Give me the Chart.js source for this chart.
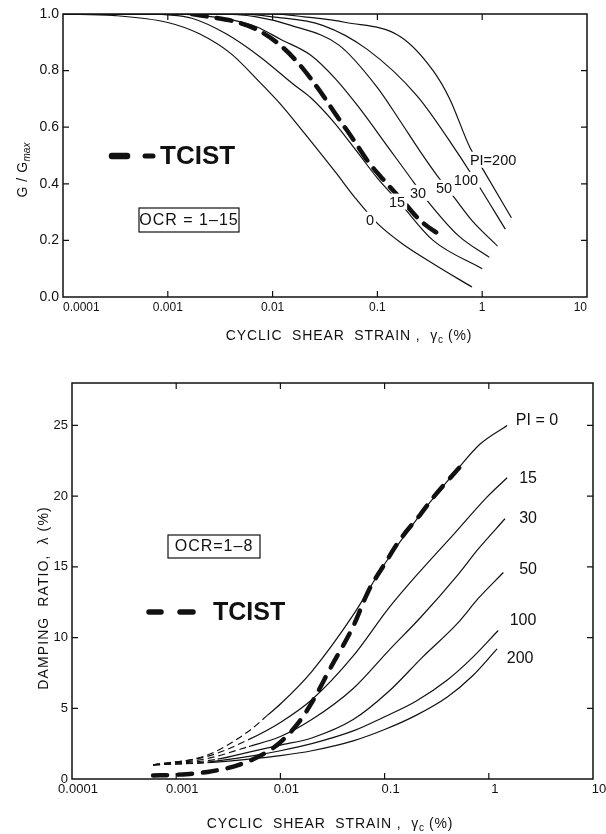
<!DOCTYPE html>
<html>
<head>
<meta charset="utf-8">
<script src="https://cdn.jsdelivr.net/npm/chart.js@4.4.1/dist/chart.umd.min.js"></script>
<style>
  body { margin: 0; background: #fff; width: 606px; height: 834px; overflow: hidden; }
  .box { position: absolute; left: 0; width: 606px; }
</style>
</head>
<body>
<div class="box" style="top:0;height:345px"><canvas id="gChart"></canvas></div>
<div class="box" style="top:345px;height:489px"><canvas id="dChart"></canvas></div>
<script>
// axes
const strainTicks = [0.0001, 0.001, 0.01, 0.1, 1, 10];
const strainTickLabels = ["0.0001", "0.001", "0.01", "0.1", "1", "10"];
const gTicks = [0, 0.2, 0.4, 0.6, 0.8, 1.0];
const gTickLabels = ["0.0", "0.2", "0.4", "0.6", "0.8", "1.0"];
const dTicks = [0, 5, 10, 15, 20, 25];
const dTickLabels = ["0", "5", "10", "15", "20", "25"];

// G/Gmax curves (strain %, G/Gmax)
const gStrain0 = [0.0001, 0.0003, 0.001, 0.002, 0.004, 0.0075, 0.012, 0.02, 0.04, 0.06, 0.1, 0.17, 0.35, 0.8];
const gPI0 = [1.0, 0.995, 0.97, 0.93, 0.86, 0.76, 0.68, 0.58, 0.44, 0.355, 0.26, 0.19, 0.115, 0.035];
const gStrain15 = [0.0001, 0.0005, 0.001, 0.0017, 0.0036, 0.0075, 0.016, 0.023, 0.038, 0.065, 0.1, 0.166, 0.34, 1.0];
const gPI15 = [1.0, 1.0, 0.997, 0.985, 0.93, 0.85, 0.75, 0.705, 0.62, 0.51, 0.42, 0.33, 0.2, 0.1];
const gStrain30 = [0.0001, 0.001, 0.002, 0.004, 0.007, 0.012, 0.023, 0.04, 0.065, 0.132, 0.19, 0.3, 0.6, 1.17];
const gPI30 = [1.0, 1.0, 0.995, 0.98, 0.955, 0.91, 0.855, 0.77, 0.675, 0.52, 0.44, 0.34, 0.215, 0.14];
const gStrain50 = [0.0001, 0.003, 0.007, 0.015, 0.043, 0.1, 0.166, 0.25, 0.37, 0.52, 0.8, 1.4];
const gPI50 = [1.0, 1.0, 0.99, 0.96, 0.89, 0.74, 0.62, 0.52, 0.43, 0.36, 0.27, 0.18];
const gStrain100 = [0.0001, 0.005, 0.01, 0.03, 0.08, 0.24, 0.58, 0.9, 1.66];
const gPI100 = [1.0, 1.0, 0.99, 0.96, 0.875, 0.71, 0.51, 0.4, 0.24];
const gStrain200 = [0.0001, 0.01, 0.02, 0.05, 0.166, 0.34, 0.49, 0.76, 1.02, 1.9];
const gPI200 = [1.0, 1.0, 0.99, 0.97, 0.92, 0.80, 0.70, 0.53, 0.45, 0.28];
const tcistGStrain = [0.0017, 0.0025, 0.0042, 0.007, 0.0118, 0.0182, 0.028, 0.041, 0.059, 0.081, 0.117, 0.174, 0.257, 0.43];
const tcistG = [1.0, 0.99, 0.975, 0.946, 0.89, 0.82, 0.73, 0.64, 0.556, 0.48, 0.41, 0.34, 0.27, 0.21];

// damping curves (strain %, damping %)
const dStrain0 = [0.0006, 0.002, 0.005, 0.0075, 0.01, 0.02, 0.05, 0.1, 0.22, 0.5, 0.83, 1.5];
const dPI0 = [1.0, 1.7, 3.4, 4.5, 5.3, 7.6, 11.6, 15.2, 18.7, 21.9, 23.7, 25.0];
const dStrain15 = [0.0006, 0.002, 0.005, 0.01, 0.02, 0.05, 0.11, 0.22, 0.46, 0.95, 1.5];
const dPI15 = [1.0, 1.6, 2.8, 4.0, 5.6, 8.7, 12.1, 14.7, 17.3, 19.9, 21.3];
const dStrain30 = [0.0006, 0.002, 0.005, 0.01, 0.02, 0.05, 0.11, 0.22, 0.5, 0.8, 1.43];
const dPI30 = [1.0, 1.45, 2.3, 3.0, 4.2, 6.4, 9.1, 11.4, 14.4, 16.3, 18.4];
const dStrain50 = [0.0006, 0.0025, 0.005, 0.01, 0.02, 0.05, 0.11, 0.23, 0.5, 0.8, 1.38];
const dPI50 = [1.0, 1.4, 1.9, 2.4, 2.9, 4.2, 6.2, 8.6, 11.0, 12.8, 14.6];
const dStrain100 = [0.0006, 0.002, 0.005, 0.01, 0.02, 0.05, 0.1, 0.2, 0.4, 0.7, 1.23];
const dPI100 = [1.0, 1.2, 1.6, 2.0, 2.5, 3.4, 4.4, 5.5, 7.0, 8.6, 10.5];
const dStrain200 = [0.0006, 0.002, 0.005, 0.01, 0.02, 0.05, 0.1, 0.2, 0.4, 0.7, 1.2];
const dPI200 = [1.0, 1.15, 1.4, 1.65, 2.0, 2.7, 3.5, 4.5, 5.8, 7.3, 9.2];
const tcistDStrain = [0.0006, 0.001, 0.002, 0.004, 0.007, 0.01, 0.015, 0.02, 0.03, 0.05, 0.07, 0.1, 0.14, 0.22, 0.3, 0.52];
const tcistD = [0.25, 0.3, 0.5, 1.0, 1.8, 2.6, 4.0, 5.4, 7.8, 10.8, 13.3, 15.2, 16.9, 18.7, 20.0, 22.0];

// curve labels (where the PI text sits on each curve)
const gLabelText = ["0", "15", "30", "50", "100", "PI=200"];
const gLabelStrain = [0.085, 0.154, 0.244, 0.433, 0.70, 1.27];
const gLabelValue = [0.273, 0.337, 0.368, 0.386, 0.414, 0.485];
const dLabelText = ["PI = 0", "15", "30", "50", "100", "200"];
const dLabelStrain = [2.9, 2.38, 2.38, 2.38, 2.13, 2.0];
const dLabelValue = [25.4, 21.3, 18.45, 14.9, 11.3, 8.6];

const FONT = "'Liberation Sans', Arial, sans-serif";
const INK = "#111";

function toPoints(xs, ys) {
    return xs.map((x, i) => ({ x: x, y: ys[i] }));
}

function curve(xs, ys, extra) {
    return Object.assign({
        data: toPoints(xs, ys),
        showLine: true,
        borderColor: INK,
        borderWidth: 1.2,
        pointRadius: 0,
        fill: false,
        cubicInterpolationMode: "monotone"
    }, extra || {});
}

// thin curves dashed below a given strain
function dashedBelow(limit) {
    return {
        borderDash: ctx => (ctx.p1.parsed.x <= limit ? [7, 4] : undefined)
    };
}

function fixedTicks(values) {
    return function (scale) {
        scale.ticks = values.map(v => ({ value: v }));
    };
}

// box, inward tick marks on all four sides
const framePlugin = {
    id: "frame",
    afterDatasetsDraw(chart) {
        const { ctx, chartArea: a, scales: { x, y } } = chart;
        ctx.save();
        ctx.strokeStyle = INK;
        ctx.lineWidth = 1.5;
        ctx.strokeRect(a.left, a.top, a.right - a.left, a.bottom - a.top);
        ctx.lineWidth = 1.2;
        ctx.beginPath();
        x.ticks.forEach(t => {
            const px = x.getPixelForValue(t.value);
            if (px <= a.left + 1 || px >= a.right - 1) return;
            ctx.moveTo(px, a.bottom); ctx.lineTo(px, a.bottom - 6);
            ctx.moveTo(px, a.top); ctx.lineTo(px, a.top + 6);
        });
        y.ticks.forEach(t => {
            const py = y.getPixelForValue(t.value);
            if (py <= a.top + 1 || py >= a.bottom - 1) return;
            ctx.moveTo(a.left, py); ctx.lineTo(a.left + 6, py);
            ctx.moveTo(a.right, py); ctx.lineTo(a.right - 6, py);
        });
        ctx.stroke();
        ctx.restore();
    }
};

// text made of pieces (for subscripts), centred on cx, cy
function drawPieces(ctx, pieces, cx, cy, angle) {
    ctx.save();
    ctx.translate(cx, cy);
    ctx.rotate(angle || 0);
    ctx.textAlign = "left";
    ctx.textBaseline = "alphabetic";
    ctx.fillStyle = INK;
    const widths = pieces.map(p => {
        ctx.font = p.font;
        ctx.letterSpacing = p.ls || "0px";
        return ctx.measureText(p.text).width;
    });
    let x = -widths.reduce((s, w) => s + w, 0) / 2;
    pieces.forEach((p, i) => {
        ctx.font = p.font;
        ctx.letterSpacing = p.ls || "0px";
        ctx.fillText(p.text, x, 5 + (p.dy || 0));
        x += widths[i];
    });
    ctx.restore();
}

function notesPlugin(cfg) {
    return {
        id: "notes",
        afterDatasetsDraw(chart) {
            const { ctx, scales: { x, y } } = chart;
            ctx.save();
            ctx.fillStyle = INK;
            ctx.textAlign = "center";
            ctx.textBaseline = "middle";
            ctx.font = cfg.labelFont;
            cfg.labels.forEach((txt, i) => {
                const px = x.getPixelForValue(cfg.labelX[i]);
                const py = y.getPixelForValue(cfg.labelY[i]);
                const w = ctx.measureText(txt).width;
                ctx.fillStyle = "#fff";
                ctx.fillRect(px - w / 2 - 2, py - 8, w + 4, 16);
                ctx.fillStyle = INK;
                ctx.fillText(txt, px, py + 1);
            });

            // TCIST legend sample
            const lg = cfg.legend;
            ctx.strokeStyle = INK;
            ctx.lineCap = "round";
            lg.dashes.forEach(d => {
                ctx.lineWidth = d[2];
                ctx.beginPath();
                ctx.moveTo(d[0], lg.y);
                ctx.lineTo(d[1], lg.y);
                ctx.stroke();
            });
            ctx.font = "bold " + lg.size + "px " + FONT;
            ctx.textAlign = "left";
            ctx.fillText("TCIST", lg.textX, lg.y + 1);

            // OCR box
            const b = cfg.box;
            ctx.lineCap = "butt";
            ctx.lineWidth = 1.2;
            ctx.strokeRect(b.x, b.y, b.w, b.h);
            ctx.restore();
            drawPieces(ctx, [{ text: b.text, font: "16px " + FONT, ls: "1px" }], b.x + b.w / 2, b.y + b.h / 2 - 0.5, 0);

            // axis titles
            drawPieces(ctx, cfg.xTitle, cfg.xTitlePos[0], cfg.xTitlePos[1], 0);
            drawPieces(ctx, cfg.yTitle, cfg.yTitlePos[0], cfg.yTitlePos[1], -Math.PI / 2);
        }
    };
}

function strainAxis(fontSize, align, offset, height) {
    return {
        type: "logarithmic",
        min: 0.0001,
        max: 10,
        afterBuildTicks: fixedTicks(strainTicks),
        afterFit: s => { s.height = height; },
        grid: { display: false, drawTicks: false },
        border: { display: false },
        ticks: {
            autoSkip: false,
            maxRotation: 0,
            align: align,
            labelOffset: offset,
            padding: 3,
            color: INK,
            font: { family: FONT, size: fontSize },
            callback: (v, i) => strainTickLabels[i]
        }
    };
}

function valueAxis(min, max, ticks, labels, fontSize, width) {
    return {
        min: min,
        max: max,
        afterBuildTicks: fixedTicks(ticks),
        afterFit: s => { s.width = width; },
        grid: { display: false, drawTicks: false },
        border: { display: false },
        ticks: {
            autoSkip: false,
            padding: 4,
            color: INK,
            font: { family: FONT, size: fontSize },
            callback: (v, i) => labels[i]
        }
    };
}

const strainTitle = size => [
    { text: "CYCLIC  SHEAR  STRAIN ,  \u03b3", font: size + "px " + FONT, ls: "0.9px" },
    { text: "c", font: (size - 4) + "px " + FONT, dy: 3 },
    { text: " (%)", font: size + "px " + FONT, ls: "0.9px" }
];

new Chart(document.getElementById("gChart"), {
    type: "scatter",
    data: {
        datasets: [
            curve(gStrain0, gPI0),
            curve(gStrain15, gPI15),
            curve(gStrain30, gPI30),
            curve(gStrain50, gPI50),
            curve(gStrain100, gPI100),
            curve(gStrain200, gPI200),
            curve(tcistGStrain, tcistG, { borderWidth: 4.5, borderDash: [15, 10], borderCapStyle: "round" })
        ]
    },
    options: {
        responsive: true,
        maintainAspectRatio: false,
        animation: false,
        layout: { padding: { top: 14, right: 19, left: 0, bottom: 0 } },
        plugins: { legend: { display: false }, tooltip: { enabled: false } },
        scales: {
            x: strainAxis(12, "inner", 0, 48),
            y: valueAxis(0, 1, gTicks, gTickLabels, 14, 63)
        }
    },
    plugins: [framePlugin, notesPlugin({
        labelFont: "14.5px " + FONT,
        labels: gLabelText, labelX: gLabelStrain, labelY: gLabelValue,
        legend: { y: 156, dashes: [[112, 127, 6.5], [145, 153, 5]], textX: 160, size: 26 },
        box: { x: 139, y: 208, w: 100, h: 24, text: "OCR = 1\u201315" },
        xTitle: strainTitle(14), xTitlePos: [349, 335],
        yTitle: [
            { text: "G / G", font: "14px " + FONT, ls: "0.5px" },
            { text: "max", font: "italic 10px " + FONT, dy: 3 }
        ],
        yTitlePos: [22, 170]
    })]
});

new Chart(document.getElementById("dChart"), {
    type: "scatter",
    data: {
        datasets: [
            curve(dStrain0, dPI0, { segment: dashedBelow(0.0075) }),
            curve(dStrain15, dPI15, { segment: dashedBelow(0.005) }),
            curve(dStrain30, dPI30, { segment: dashedBelow(0.005) }),
            curve(dStrain50, dPI50, { segment: dashedBelow(0.0025) }),
            curve(dStrain100, dPI100, { segment: dashedBelow(0.002) }),
            curve(dStrain200, dPI200, { segment: dashedBelow(0.002) }),
            curve(tcistDStrain, tcistD, { borderWidth: 4.5, borderDash: [14, 11], borderCapStyle: "round" })
        ]
    },
    options: {
        responsive: true,
        maintainAspectRatio: false,
        animation: false,
        layout: { padding: { top: 38, right: 13, left: 0, bottom: 0 } },
        plugins: { legend: { display: false }, tooltip: { enabled: false } },
        scales: {
            x: strainAxis(13, "center", 6, 55),
            y: valueAxis(0, 28, dTicks, dTickLabels, 13, 72)
        }
    },
    plugins: [framePlugin, notesPlugin({
        labelFont: "16px " + FONT,
        labels: dLabelText, labelX: dLabelStrain, labelY: dLabelValue,
        legend: { y: 267, dashes: [[149, 161, 5.5], [180, 193, 5.5]], textX: 213, size: 25 },
        box: { x: 168, y: 190, w: 92, h: 23, text: "OCR=1\u20138" },
        xTitle: strainTitle(14), xTitlePos: [330, 478],
        yTitle: [{ text: "DAMPING  RATIO,  \u03bb (%)", font: "14px " + FONT, ls: "1.1px" }],
        yTitlePos: [43, 253]
    })]
});
</script>
</body>
</html>
